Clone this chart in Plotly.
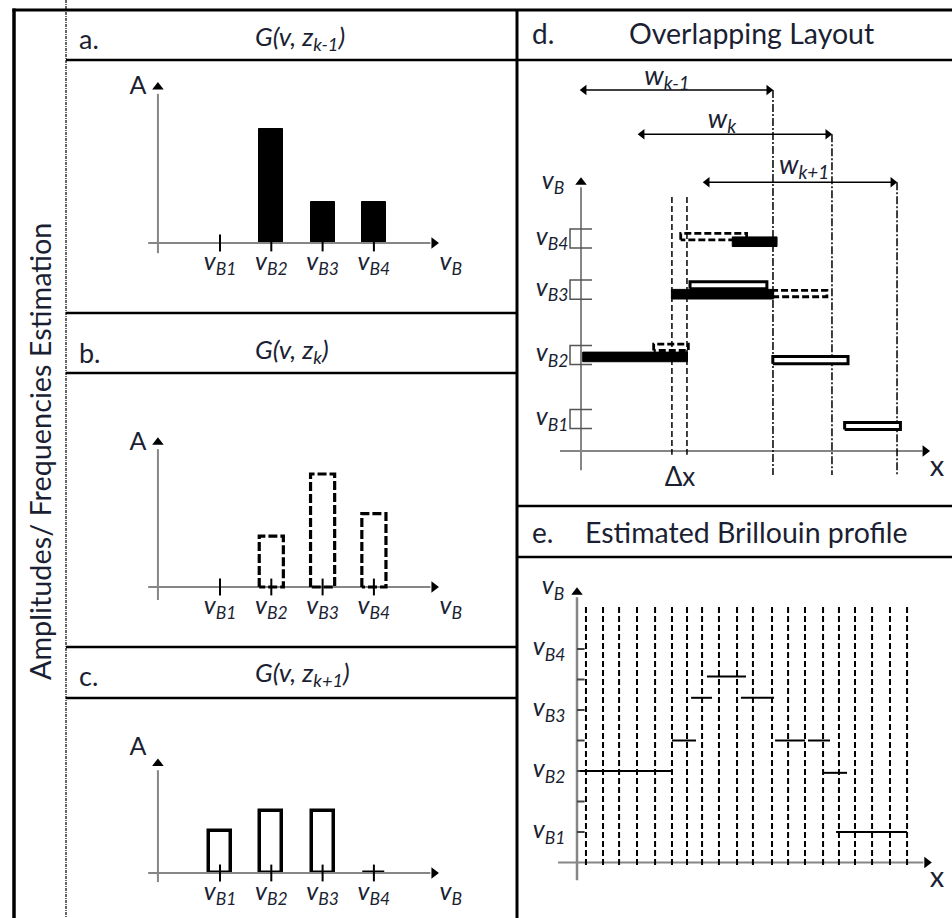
import plotly.graph_objects as go

W, H = 952, 918
FONT = "Lato, Carlito, Calibri, sans-serif"
INK = "#1b1f33"
GRAY = "#868686"

# ---------------- data ----------------
freq_pos = [1, 2, 3, 4]
freq_labels = ["<i>v<sub>B1</sub></i>", "<i>v<sub>B2</sub></i>",
               "<i>v<sub>B3</sub></i>", "<i>v<sub>B4</sub></i>"]
freq_axis_label = "<i>v<sub>B</sub></i>"
amp_axis_label = "A"

# amplitudes of the three spectra (arbitrary units)
amp_zk_minus1 = [0.0, 1.01, 0.36, 0.36]
amp_zk = [0.0, 0.45, 1.00, 0.65]
amp_zk_plus1 = [0.37, 0.55, 0.55, 0.0]
bar_width = 0.47

left_letters = ["a.", "b.", "c."]
left_titles = ["<i>G(v, z<sub>k-1</sub>)</i>", "<i>G(v, z<sub>k</sub>)</i>", "<i>G(v, z<sub>k+1</sub>)</i>"]
side_title = "Amplitudes/ Frequencies Estimation"
right_letters = ["d.", "e."]
right_titles = ["Overlapping Layout", "Estimated Brillouin profile"]

# panel d : overlapping windows
win_labels = ["<i>w<sub>k-1</sub></i>", "<i>w<sub>k</sub></i>", "<i>w<sub>k+1</sub></i>"]
win_start = [-0.06, 3.37, 7.22]
win_end = [11.36, 14.85, 18.70]
win_level = [6.14, 5.45, 4.70]
win_label_x = [5.09, 8.34, 13.2]
win_label_y = [6.33, 5.66, 4.94]
dx_lines = [5.38, 6.27]
dx_label = "Δx"
d_levels = [1.0, 2.0, 3.02, 3.82]
# segments estimated in each window: window index, start, end, frequency
seg_window = [1, 1, 1, 0, 0, 0, 2, 2, 2]
seg_x0 = [4.30, 6.30, 5.90, 0.10, 5.35, 8.95, 6.45, 11.35, 15.60]
seg_x1 = [6.35, 14.55, 9.80, 6.30, 11.40, 11.60, 11.00, 15.80, 18.90]
seg_v = [2.12, 2.96, 3.85, 1.97, 2.95, 3.77, 3.09, 1.92, 0.89]

# panel e : estimated profile
e_grid_x = [0.53, 1.54, 2.49, 3.55, 4.62, 5.62, 6.51, 7.40, 8.40, 9.47,
            10.41, 11.54, 12.49, 13.49, 14.56, 15.50, 16.45, 17.46, 18.52, 19.53]
e_ticks = [1.0, 1.5, 2.0, 2.5, 3.0, 3.5, 4.0]
e_levels = [1.0, 2.0, 3.0, 4.0]
est_x0 = [0.18, 5.62, 6.75, 7.69, 9.70, 11.72, 13.67, 14.56, 15.33]
est_x1 = [5.56, 7.04, 7.99, 10.00, 11.66, 13.49, 14.97, 15.98, 19.53]
est_v = [2.00, 2.50, 3.20, 3.55, 3.20, 2.50, 2.50, 1.97, 1.00]
x_label = "x"

# ---------------- layout helpers ----------------
PANELS = {
    "a": dict(L=67, R=515, T=62, B=311, x0=168.7, sx=51.3, y0=243, sy=113),
    "b": dict(L=67, R=515, T=375, B=645, x0=168.7, sx=51.3, y0=587, sy=113),
    "c": dict(L=67, R=515, T=700, B=918, x0=168.7, sx=51.3, y0=873, sy=113),
    "d": dict(L=519, R=952, T=62, B=504, x0=581, sx=16.9, y0=483, sy=64),
    "e": dict(L=519, R=952, T=559, B=918, x0=577, sx=16.9, y0=893, sy=61),
}

fig = go.Figure()
layout_axes = {}
REF = {}
for i, (name, p) in enumerate(PANELS.items(), start=1):
    sfx = "" if i == 1 else str(i)
    REF[name] = ("x" + sfx, "y" + sfx)
    layout_axes["xaxis" + sfx] = dict(
        domain=[p["L"] / W, p["R"] / W],
        range=[(p["L"] - p["x0"]) / p["sx"], (p["R"] - p["x0"]) / p["sx"]],
        visible=False, anchor="y" + sfx, fixedrange=True)
    layout_axes["yaxis" + sfx] = dict(
        domain=[1 - p["B"] / H, 1 - p["T"] / H],
        range=[(p["y0"] - p["B"]) / p["sy"], (p["y0"] - p["T"]) / p["sy"]],
        visible=False, anchor="x" + sfx, fixedrange=True)


def add(panel, trace):
    xr, yr = REF[panel]
    trace.update(xaxis=xr, yaxis=yr, showlegend=False, hoverinfo="skip")
    fig.add_trace(trace)


def line(panel, xs, ys, color="black", width=2, dash=None):
    add(panel, go.Scatter(x=xs, y=ys, mode="lines",
                          line=dict(color=color, width=width, dash=dash), cliponaxis=False))


def marker(panel, x, y, symbol, size=10, color="black"):
    add(panel, go.Scatter(x=[x], y=[y], mode="markers",
                          marker=dict(symbol=symbol, size=size, color=color), cliponaxis=False))


def text(panel, xs, ys, labels, size=22, pos="middle center", color=INK):
    add(panel, go.Scatter(x=xs, y=ys, mode="text", text=labels, textposition=pos,
                          textfont=dict(family=FONT, size=size, color=color), cliponaxis=False))


def rect(x0, x1, y0, y1):
    return [x0, x0, x1, x1, x0], [y0, y1, y1, y0, y0]


V_SIZE = 25

# ---------------- panels a, b, c ----------------
abc_cfg = {
    "a": dict(amp=amp_zk_minus1, style="filled", ybot=-0.09, ytop=1.38, ay=1.37),
    "b": dict(amp=amp_zk, style="dashed", ybot=-0.115, ytop=1.28, ay=1.27),
    "c": dict(amp=amp_zk_plus1, style="outline", ybot=-0.08, ytop=0.97, ay=1.10),
}
for name, cfg in abc_cfg.items():
    # axes
    line(name, [-0.40, 5.10], [0, 0], color=GRAY, width=2)
    marker(name, 5.17, 0, "triangle-right", size=10)
    line(name, [-0.21, -0.21], [cfg["ybot"], cfg["ytop"] - 0.06], color=GRAY, width=2)
    marker(name, -0.21, cfg["ytop"], "triangle-up", size=10)
    # bars
    if cfg["style"] == "filled":
        add(name, go.Bar(x=freq_pos, y=cfg["amp"], width=bar_width,
                         marker=dict(color="black", line=dict(color="black", width=1))))
    elif cfg["style"] == "outline":
        add(name, go.Bar(x=freq_pos, y=cfg["amp"], width=bar_width - 0.04,
                         marker=dict(color="white", line=dict(color="black", width=3.5))))
    else:
        for xp, a in zip(freq_pos, cfg["amp"]):
            if a <= 0:
                continue
            xs, ys = rect(xp - bar_width / 2, xp + bar_width / 2, 0, a)
            line(name, xs, ys, width=3.2, dash="9px,3px")
    # ticks
    add(name, go.Scatter(x=freq_pos, y=[0] * 4, mode="markers",
                         marker=dict(symbol="line-ns", size=12, line=dict(color="black", width=2)),
                         cliponaxis=False))
    # labels
    text(name, freq_pos, [-0.18] * 4, freq_labels, size=V_SIZE)
    text(name, [5.50], [-0.18], [freq_axis_label], size=V_SIZE)
    text(name, [-0.60], [cfg["ay"]], [amp_axis_label], size=25)

# ---------------- panel d ----------------
# axes
line("d", [0, 0], [0.2, 4.62], color=GRAY, width=2)
marker("d", 0, 4.70, "triangle-up", size=10)
line("d", [-1.24, 20.2], [0.5, 0.5], color=GRAY, width=2)
marker("d", 20.36, 0.5, "triangle-right", size=10)
for lv in d_levels:
    line("d", [0.65, -0.65, -0.65, 0.65], [lv + 0.15, lv + 0.15, lv - 0.15, lv - 0.15],
         color="#555555", width=1.5)
text("d", [-0.75] * 4, d_levels, freq_labels, size=V_SIZE, pos="middle left")
text("d", [-1.66], [4.69], [freq_axis_label], size=V_SIZE)
text("d", [21.07], [0.23], [x_label], size=29)
text("d", [5.86], [0.05], [dx_label], size=26)
# delta-x lines
for xv in dx_lines:
    line("d", [xv, xv], [4.47, 0.44], width=1.5, dash="6px,3px")
# window arrows
for s, e, lv, lx, ly, lab in zip(win_start, win_end, win_level, win_label_x, win_label_y, win_labels):
    line("d", [e, e], [lv, 0.125], width=1.5, dash="8px,2px,2px,2px")
    line("d", [s + 0.3, e - 0.3], [lv, lv], width=1.5)
    marker("d", s + 0.25, lv, "triangle-left", size=9)
    marker("d", e - 0.25, lv, "triangle-right", size=9)
    text("d", [lx], [ly], [lab], size=27)
# segments: draw window k (dashed) first, then k-1 (filled), then k+1 (outline)
for order in [1, 0, 2]:
    for w, x0, x1, v in zip(seg_window, seg_x0, seg_x1, seg_v):
        if w != order:
            continue
        if w == 0:
            xs, ys = rect(x0, x1, v - 0.075, v + 0.075)
            add("d", go.Scatter(x=xs, y=ys, mode="lines", fill="toself", fillcolor="black",
                                line=dict(color="black", width=1), cliponaxis=False))
        elif w == 1:
            xs, ys = rect(x0, x1, v - 0.05, v + 0.05)
            line("d", xs, ys, width=2.8, dash="7px,3px")
        else:
            xs, ys = rect(x0, x1, v - 0.055, v + 0.055)
            add("d", go.Scatter(x=xs, y=ys, mode="lines", fill="toself", fillcolor="white",
                                line=dict(color="black", width=3), cliponaxis=False))

# ---------------- panel e ----------------
line("e", [0, 0], [0.21, 4.85], color=GRAY, width=2.5)
marker("e", 0, 4.93, "triangle-up", size=10)
line("e", [-1.12, 20.5], [0.5, 0.5], color=GRAY, width=2)
marker("e", 20.7, 0.5, "triangle-right", size=10)
for t in e_ticks:
    line("e", [0, 0.45], [t, t], color="#444444", width=2)
for gx in e_grid_x:
    line("e", [gx, gx], [4.69, 0.46], width=2, dash="6px,3px")
for x0, x1, v in zip(est_x0, est_x1, est_v):
    line("e", [x0, x1], [v, v], width=2)
text("e", [-0.68] * 4, e_levels, freq_labels, size=V_SIZE, pos="middle left")
text("e", [-1.42], [5.0], [freq_axis_label], size=V_SIZE)
text("e", [21.3], [0.21], [x_label], size=29)

# ---------------- frame ----------------
def pl(x0, y0, x1, y1, width=2.5, dash=None):
    return dict(type="line", xref="paper", yref="paper", x0=x0 / W, x1=x1 / W,
                y0=1 - y0 / H, y1=1 - y1 / H, line=dict(color="black", width=width, dash=dash))


shapes = [
    pl(14, 8.5, 14, 918, 3.5),
    pl(12.5, 10, 952, 10, 3),
    pl(517, 10, 517, 918, 3),
    pl(66, 0, 66, 918, 1.2, "3px,1px,1px,1px"),
]
for yv in [60, 313, 373, 647, 698]:
    shapes.append(pl(66, yv, 517, yv, 2.5))
for yv in [60, 506, 557]:
    shapes.append(pl(517, yv, 952, yv, 2.5))

annotations = []


def pa(xp, yp, txt, size=26, xanchor="left", angle=0):
    annotations.append(dict(x=xp / W, y=1 - yp / H, xref="paper", yref="paper", text=txt,
                            showarrow=False, xanchor=xanchor, yanchor="middle", textangle=angle,
                            font=dict(family=FONT, size=size, color=INK)))


left_header_y = [37, 350, 673]
for lt, tt, yv in zip(left_letters, left_titles, left_header_y):
    pa(77, yv + 2, lt, size=27)
    pa(253, yv, tt, size=26)
right_header_y = [33, 532]
for lt, tt, yv in zip(right_letters, right_titles, right_header_y):
    pa(530, yv, lt, size=28)
    pa(627 if lt == "d." else 583, yv, tt, size=28.5)
pa(40, 452, side_title, size=28.8, xanchor="center", angle=-90)

fig.update_layout(width=W, height=H, margin=dict(l=0, r=0, t=0, b=0), autosize=False,
                  paper_bgcolor="white", plot_bgcolor="white", showlegend=False,
                  shapes=shapes, annotations=annotations, bargap=0, **layout_axes)

fig.write_html("out.html")
